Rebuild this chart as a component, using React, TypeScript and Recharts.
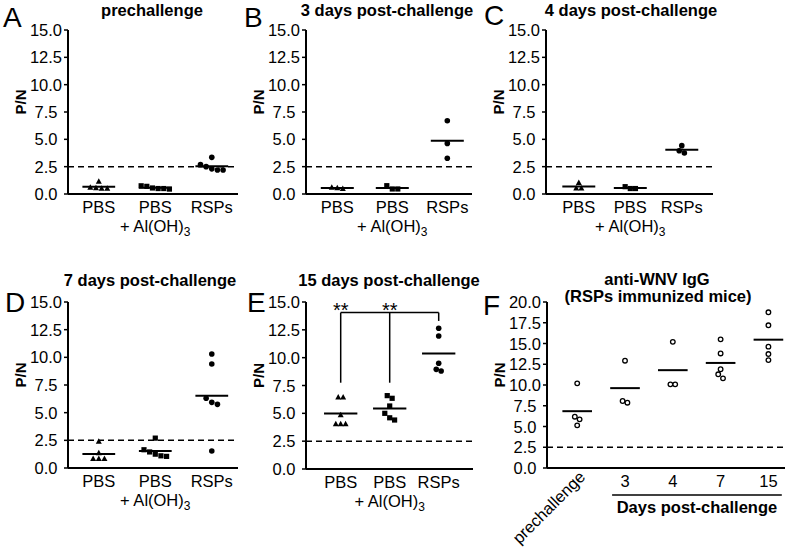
import React from 'react';
import { ScatterChart, Scatter, XAxis, YAxis, ReferenceLine } from 'recharts';

const FONT = '"Liberation Sans", Arial, Helvetica, sans-serif';

// axis categories / ticks
const groupNames = ['PBS', 'PBS', 'RSPs'];
const dayNames = ['prechallenge', '3', '4', '7', '15'];
const ticks15 = [0, 2.5, 5, 7.5, 10, 12.5, 15];
const ticks20 = [0, 2.5, 5, 7.5, 10, 12.5, 15, 17.5, 20];
const cutoff = 2.5;

// A - prechallenge
const aPbs = [1.15, 0.55, 0.5, 0.6, 0.5];
const aPbsAlum = [0.75, 0.7, 0.55, 0.5, 0.45, 0.5];
const aRsps = [3.35, 2.7, 2.5, 2.3, 2.2, 2.2];

// B - 3 days
const bPbs = [0.6, 0.48, 0.55];
const bPbsAlum = [0.76, 0.46, 0.46];
const bRsps = [6.7, 4.63, 3.27];

// C - 4 days
const cPbs = [1.04, 0.52, 0.52];
const cPbsAlum = [0.67, 0.5, 0.5];
const cRsps = [4.42, 3.95, 3.75];

// D - 7 days
const dPbs = [2.4, 1.35, 0.85, 0.85, 0.85];
const dPbsAlum = [2.7, 1.65, 1.45, 1.25, 1.05, 1.1];
const dRsps = [10.3, 9.4, 6.3, 5.93, 5.75, 1.54];

// E - 15 days
const ePbs = [6.44, 6.44, 4.85, 4.04, 4.04, 4.04];
const ePbsAlum = [6.59, 6.35, 5.66, 5.0, 4.6, 4.4];
const eRsps = [12.64, 11.95, 9.5, 8.95, 8.8];
const eBracketTop = 14.05;
const eBracketFoot = 7.75;
const eBracketRightFoot = 13.3;
const eStars = '**';

// F - anti-WNV IgG in RSPs mice
const fPre = [10.2, 6.18, 5.86, 5.14];
const fDay3 = [12.93, 8.07, 7.87];
const fDay4 = [15.2, 10.08, 10.08];
const fDay7 = [15.5, 13.8, 11.9, 11.29, 10.8];
const fDay15 = [18.76, 17.19, 14.62, 13.73, 13.0];

const mean = (v: number[]) => v.reduce((s, n) => s + n, 0) / v.length;

// put points with nearly equal values side by side
function swarm(values: number[], center: number, delta: number, step: number) {
  const sorted = [...values].sort((a, b) => b - a);
  const groups: number[][] = [];
  sorted.forEach((v, k) => {
    if (k > 0 && sorted[k - 1] - v < delta) groups[groups.length - 1].push(v);
    else groups.push([v]);
  });
  return groups.flatMap((g) => g.map((v, j) => ({ x: center + (j - (g.length - 1) / 2) * step, y: v })));
}

const tri = (p: any) => (
  <path d={`M${p.cx},${p.cy - 3.2}L${p.cx + 3},${p.cy + 2.3}L${p.cx - 3},${p.cy + 2.3}Z`} fill="#000" />
);
const sq = (p: any) => <rect x={p.cx - 2.6} y={p.cy - 2.6} width={5.2} height={5.2} fill="#000" />;
const dot = (p: any) => <circle cx={p.cx} cy={p.cy} r={2.8} fill="#000" />;
const ring = (p: any) => <circle cx={p.cx} cy={p.cy} r={2.3} fill="#fff" stroke="#000" strokeWidth={1.3} />;
const stars = (p: any) => (
  <text x={p.cx} y={p.cy + 4} textAnchor="middle" fontSize={20} fontFamily={FONT} fill="#000">
    {eStars}
  </text>
);

type Group = { values: number[]; shape: (p: any) => React.ReactElement };

interface PanelProps {
  axisX: number;
  plotRight: number;
  plotTop: number;
  plotBottom: number;
  domain: [number, number];
  yMax: number;
  yTicks: number[];
  labels: string[];
  groups: Group[];
  meanHalf: number;
  alum?: boolean;
  days?: boolean;
  extra?: React.ReactNode;
}

function Panel(props: PanelProps) {
  const { axisX, plotRight, plotTop, plotBottom, domain, yMax, yTicks, labels, groups, meanHalf } = props;
  const left = axisX - 60;
  const top = plotTop - 12;
  const width = plotRight - left + 12;
  const height = plotBottom - top + 80;
  const cats = labels.map((_, i) => i + 1);

  const yTick = (t: any) => (
    <text x={t.x - 18} y={t.y} textAnchor="middle" dominantBaseline="central" fontSize={16.5} fontFamily={FONT} fill="#000">
      {Number(t.payload.value).toFixed(1)}
    </text>
  );

  const xTick = (t: any) => {
    const i = Math.round(t.payload.value) - 1;
    if (props.days && i === 0) {
      const ax = t.x + 9;
      const ay = t.y + 3;
      return (
        <text x={ax} y={ay} textAnchor="end" transform={`rotate(-45 ${ax} ${ay})`} fontSize={16.5} fontFamily={FONT} fill="#000">
          {labels[i]}
        </text>
      );
    }
    return (
      <g>
        <text x={t.x} y={t.y} dy="0.71em" textAnchor="middle" fontSize={16.5} fontFamily={FONT} fill="#000">
          {labels[i]}
        </text>
        {props.alum && i === 1 && (
          <text x={t.x} y={t.y + 31} textAnchor="middle" fontSize={16.5} fontFamily={FONT} fill="#000">
            + Al(OH)<tspan dy={4} fontSize={12}>3</tspan>
          </text>
        )}
      </g>
    );
  };

  const pnLabel = (l: any) => {
    const vb = l.viewBox || { x: 0, y: 0, width: 0, height: 0 };
    const cx = vb.x + vb.width - 48;
    const cy = vb.y + vb.height / 2 - 10;
    return (
      <text x={cx} y={cy} transform={`rotate(-90 ${cx} ${cy})`} textAnchor="middle" dominantBaseline="central" fontSize={15} fontWeight="bold" fontFamily={FONT} fill="#000">
        P/N
      </text>
    );
  };

  const daysLabel = (l: any) => {
    const vb = l.viewBox || { x: 0, y: 0, width: 0, height: 0 };
    const px = (v: number) => vb.x + ((v - domain[0]) / (domain[1] - domain[0])) * vb.width;
    const x1 = px(1.73);
    const x2 = px(5.28);
    return (
      <g>
        <line x1={x1} x2={x2} y1={vb.y + 27} y2={vb.y + 27} stroke="#000" strokeWidth={1.5} />
        <text x={(x1 + x2) / 2} y={vb.y + 45} textAnchor="middle" fontSize={16.5} fontWeight="bold" fontFamily={FONT} fill="#000">
          Days post-challenge
        </text>
      </g>
    );
  };

  return (
    <div style={{ position: 'absolute', left, top }}>
      <ScatterChart width={width} height={height} margin={{ top: 12, right: 12, bottom: 40, left: 10 }}>
        <XAxis
          type="number"
          dataKey="x"
          domain={domain}
          ticks={cats}
          interval={0}
          allowDataOverflow
          height={40}
          tickLine={false}
          tickSize={6}
          tickMargin={1}
          axisLine={{ stroke: '#000', strokeWidth: 2 }}
          tick={xTick}
          label={props.days ? daysLabel : undefined}
        />
        <YAxis
          type="number"
          dataKey="y"
          domain={[0, yMax]}
          ticks={yTicks}
          interval={0}
          allowDataOverflow
          width={50}
          tickSize={4}
          tickMargin={0}
          axisLine={{ stroke: '#000', strokeWidth: 2 }}
          tickLine={{ stroke: '#000', strokeWidth: 1.5 }}
          tick={yTick}
          label={pnLabel}
        />
        <ReferenceLine y={cutoff} stroke="#000" strokeWidth={1.5} strokeDasharray="6 4" />
        {groups.map((g, i) => (
          <ReferenceLine
            key={`m${i}`}
            segment={[
              { x: i + 1 - meanHalf, y: mean(g.values) },
              { x: i + 1 + meanHalf, y: mean(g.values) },
            ]}
            stroke="#000"
            strokeWidth={2}
          />
        ))}
        {groups.map((g, i) => (
          <Scatter
            key={`s${i}`}
            data={swarm(g.values, i + 1, yMax * 0.03, 0.1)}
            shape={g.shape}
            isAnimationActive={false}
          />
        ))}
        {props.extra}
      </ScatterChart>
    </div>
  );
}

const eExtra = [
  <ReferenceLine key="b1" segment={[{ x: 1, y: eBracketFoot }, { x: 1, y: eBracketTop }]} stroke="#000" strokeWidth={1.5} />,
  <ReferenceLine key="b2" segment={[{ x: 2, y: eBracketFoot }, { x: 2, y: eBracketTop }]} stroke="#000" strokeWidth={1.5} />,
  <ReferenceLine key="b3" segment={[{ x: 3, y: eBracketRightFoot }, { x: 3, y: eBracketTop }]} stroke="#000" strokeWidth={1.5} />,
  <ReferenceLine key="b4" segment={[{ x: 1, y: eBracketTop }, { x: 3, y: eBracketTop }]} stroke="#000" strokeWidth={1.5} />,
  <Scatter
    key="stars"
    data={[
      { x: 1, y: eBracketTop },
      { x: 2, y: eBracketTop },
    ]}
    shape={stars}
    isAnimationActive={false}
  />,
];

const titleStyle = { fontSize: 16.5, fontWeight: 'bold' as const, fontFamily: FONT, fill: '#000' };
const letterStyle = { fontSize: 28, fontFamily: FONT, fill: '#000' };

export default function App() {
  return (
    <div style={{ position: 'absolute', left: 0, top: 0, width: 798, height: 547, overflow: 'hidden', background: '#fff' }}>
      <Panel axisX={68} plotRight={238} plotTop={30} plotBottom={194} domain={[0.455, 3.464]} yMax={15} yTicks={ticks15} labels={groupNames} meanHalf={0.29} alum
        groups={[{ values: aPbs, shape: tri }, { values: aPbsAlum, shape: sq }, { values: aRsps, shape: dot }]} />
      <Panel axisX={306} plotRight={472} plotTop={30} plotBottom={194} domain={[0.431, 3.449]} yMax={15} yTicks={ticks15} labels={groupNames} meanHalf={0.3} alum
        groups={[{ values: bPbs, shape: tri }, { values: bPbsAlum, shape: sq }, { values: bRsps, shape: dot }]} />
      <Panel axisX={546} plotRight={713} plotTop={30} plotBottom={194} domain={[0.363, 3.606]} yMax={15} yTicks={ticks15} labels={groupNames} meanHalf={0.32} alum
        groups={[{ values: cPbs, shape: tri }, { values: cPbsAlum, shape: sq }, { values: cRsps, shape: dot }]} />
      <Panel axisX={68} plotRight={238} plotTop={302} plotBottom={468} domain={[0.455, 3.464]} yMax={15} yTicks={ticks15} labels={groupNames} meanHalf={0.29} alum
        groups={[{ values: dPbs, shape: tri }, { values: dPbsAlum, shape: sq }, { values: dRsps, shape: dot }]} />
      <Panel axisX={306} plotRight={473} plotTop={302} plotBottom={469} domain={[0.292, 3.7]} yMax={15} yTicks={ticks15} labels={groupNames} meanHalf={0.34} alum
        groups={[{ values: ePbs, shape: tri }, { values: ePbsAlum, shape: sq }, { values: eRsps, shape: dot }]} extra={eExtra} />
      <Panel axisX={547} plotRight={785} plotTop={302} plotBottom={468} domain={[0.368, 5.347]} yMax={20} yTicks={ticks20} labels={dayNames} meanHalf={0.31} days
        groups={[{ values: fPre, shape: ring }, { values: fDay3, shape: ring }, { values: fDay4, shape: ring }, { values: fDay7, shape: ring }, { values: fDay15, shape: ring }]} />

      <svg width={798} height={547} style={{ position: 'absolute', left: 0, top: 0, pointerEvents: 'none' }}>
        <text x={3} y={27} style={letterStyle}>A</text>
        <text x={244} y={27} style={letterStyle}>B</text>
        <text x={484} y={25} style={letterStyle}>C</text>
        <text x={5} y={312} style={letterStyle}>D</text>
        <text x={247} y={312} style={letterStyle}>E</text>
        <text x={483} y={315} style={letterStyle}>F</text>
        <text x={152} y={16} textAnchor="middle" style={titleStyle}>prechallenge</text>
        <text x={387} y={16} textAnchor="middle" style={titleStyle}>3 days post-challenge</text>
        <text x={631} y={16} textAnchor="middle" style={titleStyle}>4 days post-challenge</text>
        <text x={150} y={286} textAnchor="middle" style={titleStyle}>7 days post-challenge</text>
        <text x={389} y={286} textAnchor="middle" style={titleStyle}>15 days post-challenge</text>
        <text x={657} y={285} textAnchor="middle" style={titleStyle}>anti-WNV IgG</text>
        <text x={658} y={302} textAnchor="middle" style={titleStyle}>(RSPs immunized mice)</text>
      </svg>
    </div>
  );
}
